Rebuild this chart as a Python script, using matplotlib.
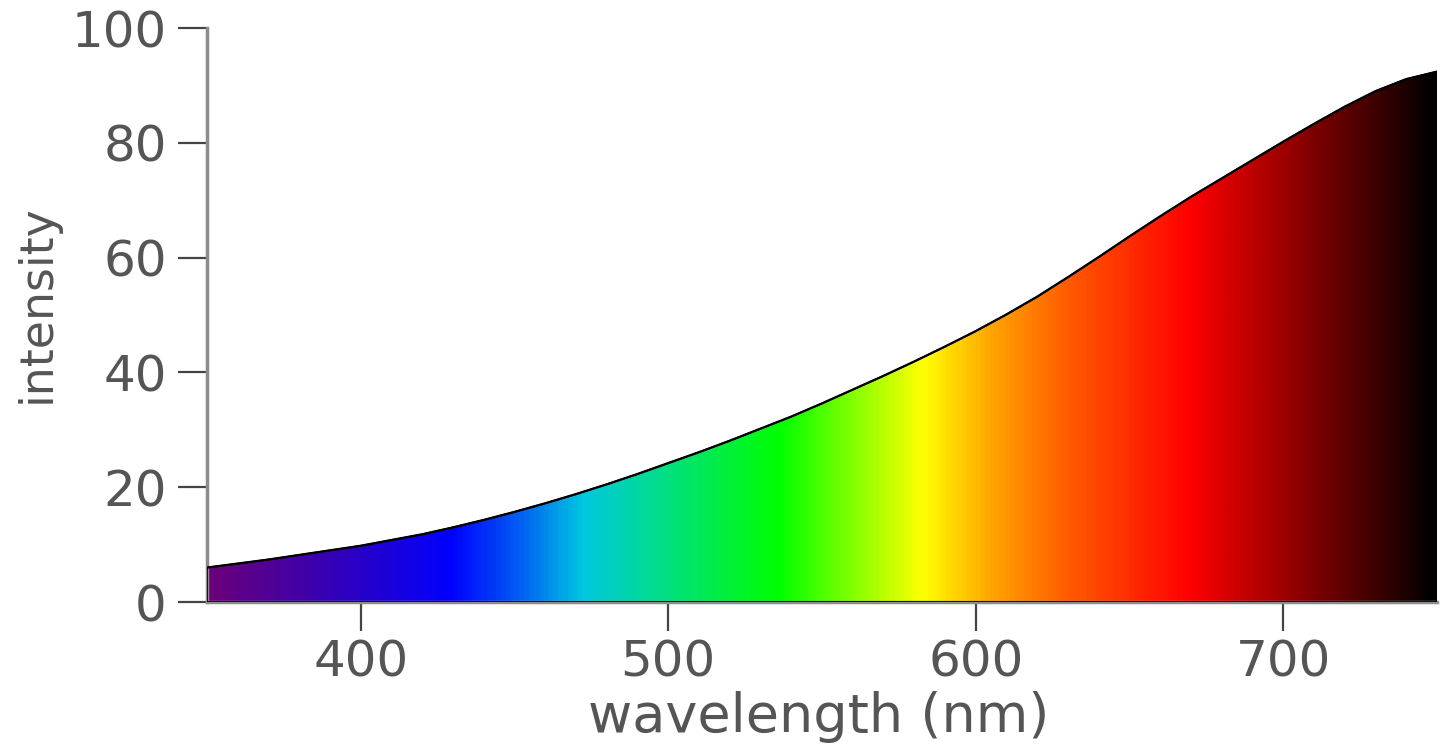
import matplotlib.pyplot as plt
import numpy as np
from matplotlib.colors import LinearSegmentedColormap

# curve, every 10 nm
wavelength = np.arange(350, 751, 10)
intensity = [6.0, 6.7, 7.4, 8.2, 9.0, 9.8, 10.8, 11.8, 13.0, 14.3,
             15.7, 17.2, 18.8, 20.5, 22.3, 24.2, 26.1, 28.1, 30.2, 32.3,
             34.6, 37.0, 39.4, 41.9, 44.5, 47.2, 50.1, 53.2, 56.6, 60.1,
             63.7, 67.2, 70.6, 73.8, 77.0, 80.2, 83.3, 86.3, 89.0, 91.1, 92.4]

# colour stops of the spectrum fill
stop_nm = [350, 380, 429, 450, 472, 536, 583, 605, 630, 670, 750]
stop_colors = ['#6b007a', '#4200a6', '#0000ff', '#0058f4', '#00c8e0', '#00ff00',
               '#ffff00', '#ffa600', '#ff5c00', '#ff0000', '#000000']

x_ticks = [400, 500, 600, 700]
y_ticks = [0, 20, 40, 60, 80, 100]

pos = [(n - stop_nm[0]) / (stop_nm[-1] - stop_nm[0]) for n in stop_nm]
cmap = LinearSegmentedColormap.from_list('spectrum', list(zip(pos, stop_colors)))

W, H = 1440, 745
fig = plt.figure(figsize=(W / 100, H / 100), dpi=100)
ax = fig.add_axes([207 / W, 1 - 602 / H, (1437 - 207) / W, (602 - 28) / H])

poly = ax.fill_between(wavelength, 0, intensity, facecolor='none',
                       edgecolor='k', lw=1.2, zorder=3)
grad = np.linspace(350, 750, 800).reshape(1, -1)
img = ax.imshow(grad, extent=[350, 750, 0, 100], aspect='auto', cmap=cmap,
                vmin=350, vmax=750, origin='lower', zorder=2,
                interpolation='bilinear')
img.set_clip_path(poly.get_paths()[0], transform=ax.transData)
ax.plot(wavelength, intensity, color='k', lw=1.6, zorder=4,
        solid_joinstyle='round')

ax.set_xlim(350, 750)
ax.set_ylim(0, 100)
ax.set_xticks(x_ticks)
ax.set_yticks(y_ticks)

for s in ['top', 'right']:
    ax.spines[s].set_visible(False)
for s in ['left', 'bottom']:
    ax.spines[s].set_color('#8c8c8c')
    ax.spines[s].set_linewidth(2.5)

ax.tick_params(length=21, width=1.6, color='#444444', labelsize=36,
               labelcolor='#555555')
ax.tick_params(axis='y', pad=8)
ax.tick_params(axis='x', pad=5)

fig.text(819 / W, 1 - 732 / H, 'wavelength (nm)', fontsize=39, color='#555555',
         ha='center', va='baseline')
fig.text(37 / W, 1 - 304 / H, 'intensity', fontsize=33, color='#555555',
         ha='center', va='center', rotation=90)

fig.savefig('out.png', dpi=100)
